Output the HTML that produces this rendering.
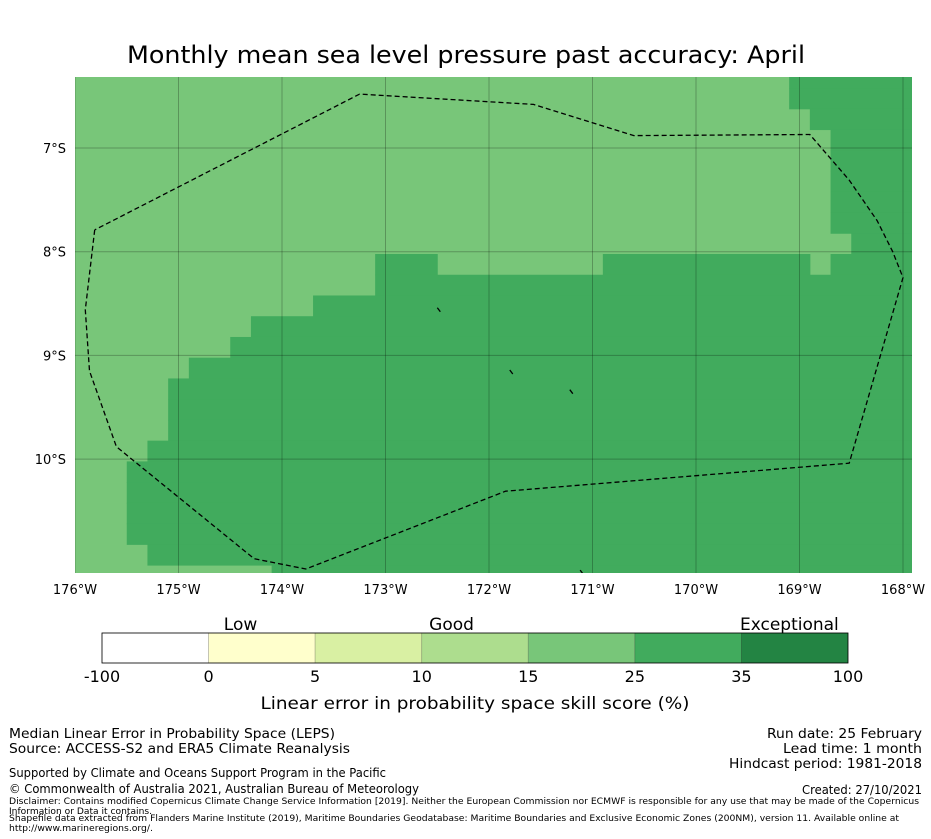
<!DOCTYPE html>
<html><head><meta charset="utf-8"><style>
html,body{margin:0;padding:0;background:#fff;}
svg{display:block;font-family:"DejaVu Sans","Liberation Sans",sans-serif;}
</style></head><body>
<svg id="chart" width="931" height="839" viewBox="0 0 931 839" xmlns="http://www.w3.org/2000/svg">
<text x="466" y="63" text-anchor="middle" font-size="24" textLength="678" lengthAdjust="spacingAndGlyphs">Monthly mean sea level pressure past accuracy: April</text>
<defs><clipPath id="mapclip"><rect x="75" y="77" width="837" height="496"/></clipPath></defs>
<g id="map" clip-path="url(#mapclip)"></g>
<g id="axes"></g>
<g id="cbar"></g>
<g font-size="13.5">
<text x="9" y="738" textLength="326" lengthAdjust="spacingAndGlyphs">Median Linear Error in Probability Space (LEPS)</text>
<text x="9" y="753" textLength="341" lengthAdjust="spacingAndGlyphs">Source: ACCESS-S2 and ERA5 Climate Reanalysis</text>
<text x="9" y="777" font-size="12" textLength="377" lengthAdjust="spacingAndGlyphs">Supported by Climate and Oceans Support Program in the Pacific</text>
<text x="9" y="793" font-size="12" textLength="410" lengthAdjust="spacingAndGlyphs">© Commonwealth of Australia 2021, Australian Bureau of Meteorology</text>
<text x="9" y="804" font-size="9" textLength="910" lengthAdjust="spacingAndGlyphs">Disclaimer: Contains modified Copernicus Climate Change Service Information [2019]. Neither the European Commission nor ECMWF is responsible for any use that may be made of the Copernicus</text>
<text x="9" y="814" font-size="9" textLength="143" lengthAdjust="spacingAndGlyphs">Information or Data it contains.</text>
<text x="9" y="821" font-size="9" textLength="890" lengthAdjust="spacingAndGlyphs">Shapefile data extracted from Flanders Marine Institute (2019), Maritime Boundaries Geodatabase: Maritime Boundaries and Exclusive Economic Zones (200NM), version 11. Available online at</text>
<text x="9" y="831" font-size="9" textLength="144" lengthAdjust="spacingAndGlyphs">http://www.marineregions.org/.</text>
</g>
<g font-size="13.5" text-anchor="end">
<text x="922" y="738" textLength="155" lengthAdjust="spacingAndGlyphs">Run date: 25 February</text>
<text x="922" y="753" textLength="139" lengthAdjust="spacingAndGlyphs">Lead time: 1 month</text>
<text x="922" y="768" textLength="193" lengthAdjust="spacingAndGlyphs">Hindcast period: 1981-2018</text>
<text x="922" y="794" font-size="12" textLength="120" lengthAdjust="spacingAndGlyphs">Created: 27/10/2021</text>
</g>
</svg>
<script>
// ---- data ----
const lonTicks = [-176,-175,-174,-173,-172,-171,-170,-169,-168];
const latTicks = [-7,-8,-9,-10];
// grid rows (top to bottom), each a list of [startCol,endCol] runs in the 25-35 category; others are 15-25
const darkRuns = [
 [[35,40]],[[35,40]],[[36,40]],[[37,40]],[[37,40]],[[37,40]],[[37,40]],[[37,40]],[[38,40]],
 [[15,17],[26,35],[37,40]],[[15,40]],[[12,40]],[[9,40]],[[8,40]],[[6,40]],
 [[5,40]],[[5,40]],[[5,40]],[[4,40]],[[3,40]],[[3,40]],[[3,40]],[[3,40]],[[4,40]],[[10,40]]
];
const nCols = 41;
const cbLevels = ["-100","0","5","10","15","25","35","100"];
const cbColors = ["#ffffff","#ffffcc","#d9f0a3","#addd8e","#78c679","#41ab5d","#238443"];
const cbCategories = ["Low","Good","Exceptional"];
const eezLon = [-175.81,-175.9,-175.86,-175.6,-174.27,-173.77,-171.84,-168.52,-168.0,-168.1,-168.25,-168.52,-168.9,-170.6,-171.57,-173.25,-175.81];
const eezLat = [-7.79,-8.56,-9.15,-9.88,-10.96,-11.06,-10.31,-10.04,-8.25,-8.0,-7.7,-7.31,-6.87,-6.88,-6.58,-6.48,-7.79];
const islandsLon = [-172.48,-171.78,-171.2,-171.1];
const islandsLat = [-8.56,-9.16,-9.35,-11.09];

// ---- scales ----
const xLon = lon => 75 + (lon + 176) * 103.5;
const yLat = lat => 148 + (-7 - lat) * 103.7;
const cellW = 0.2*103.5, cellH = 0.2*103.7;
const colX = j => xLon(-176 + 0.2*j) - cellW/2;
const rowY = k => 254 - cellH*(9-k);
const NS = "http://www.w3.org/2000/svg";
function mk(tag, attrs, parent){const e=document.createElementNS(NS,tag);for(const k in attrs)e.setAttribute(k,attrs[k]);parent.appendChild(e);return e;}

const map = document.getElementById('map');
let bg = mk('rect',{x:75,y:77,width:837,height:496,fill:'#78c679'},map);


darkRuns.forEach((runs,k)=>{
  runs.forEach(r=>{
    const c = mk('rect',{x:colX(r[0]),y:rowY(k),width:cellW*(r[1]-r[0]+1)+0.5,height:cellH+0.5,fill:'#41ab5d'},map);
    
    
  });
});
lonTicks.forEach(l=>{
  const g = mk('line',{x1:xLon(l),x2:xLon(l),y1:77,y2:573,stroke:'#000','stroke-opacity':0.25,'stroke-width':1},map);
  
  
});
latTicks.forEach(l=>{
  const g = mk('line',{x1:75,x2:912,y1:yLat(l),y2:yLat(l),stroke:'#000','stroke-opacity':0.25,'stroke-width':1},map);
  
  
});
const pts = eezLon.map((l,i)=>xLon(l).toFixed(1)+','+yLat(eezLat[i]).toFixed(1)).join(' ');
const eez = mk('polyline',{points:pts,fill:'none',stroke:'#000','stroke-width':1.3,'stroke-dasharray':'5,3'},map);


islandsLon.forEach((l,i)=>{
  const x=xLon(l), y=yLat(islandsLat[i]);
  const s = mk('line',{x1:x-2,y1:y-2,x2:x+1,y2:y+2,stroke:'#000','stroke-width':1.3},map);
  
  
});

const axes = document.getElementById('axes');
lonTicks.forEach(l=>{
  const t = mk('text',{x:xLon(l),y:594,'text-anchor':'middle','font-size':13},axes);
  t.textContent = Math.abs(l)+'°W';
  
  
});
latTicks.forEach(l=>{
  const t = mk('text',{x:66,y:yLat(l)+5,'text-anchor':'end','font-size':13},axes);
  t.textContent = Math.abs(l)+'°S';
  
  
});

const cb = document.getElementById('cbar');
const cbX0=102, cbX1=848, cbY=633, cbH=30;
const segW=(cbX1-cbX0)/cbColors.length;
cbColors.forEach((c,i)=>{
  const r = mk('rect',{x:cbX0+i*segW,y:cbY,width:segW,height:cbH,fill:c,stroke:'#000','stroke-opacity':0.2,'stroke-width':0.8},cb);
  
  
});
const fr = mk('rect',{x:cbX0,y:cbY,width:cbX1-cbX0,height:cbH,fill:'none',stroke:'#000','stroke-width':0.8},cb);


cbLevels.forEach((v,i)=>{
  const t = mk('text',{x:cbX0+i*segW,y:682,'text-anchor':'middle','font-size':16},cb);
  t.textContent=v;
  
  
});
const catPos=[1.30,3.28,6.45];
cbCategories.forEach((c,i)=>{
  const t = mk('text',{x:cbX0+catPos[i]*segW,y:630,'text-anchor':'middle','font-size':17},cb);
  t.textContent=c;
  
  
});
const ct = mk('text',{x:475,y:709,'text-anchor':'middle','font-size':17,textLength:429,lengthAdjust:'spacingAndGlyphs'},cb);
ct.textContent='Linear error in probability space skill score (%)';


</script>
</body></html>
